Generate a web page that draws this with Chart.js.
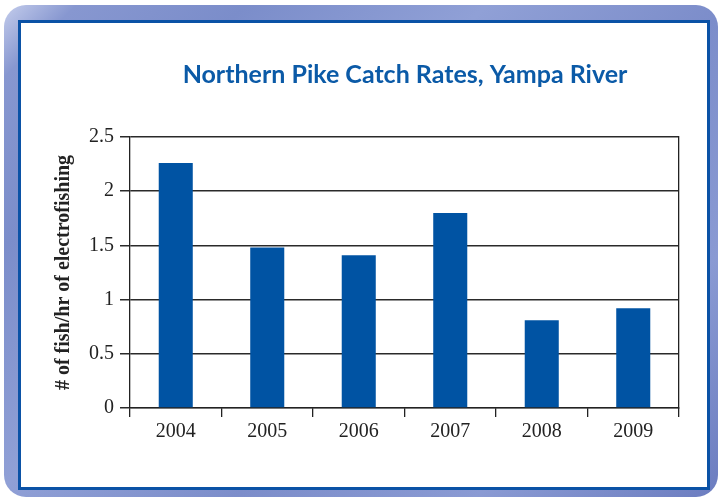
<!DOCTYPE html>
<html>
<head>
<meta charset="utf-8">
<script src="https://cdn.jsdelivr.net/npm/chart.js@4"></script>
<style>
  html, body { margin: 0; padding: 0; background: #ffffff; width: 723px; height: 500px; overflow: hidden; }
  #outer {
    position: absolute; left: 4px; top: 5px; width: 714px; height: 492px;
    border-radius: 22px;
    background: linear-gradient(135deg, #c4cdec 0%, #8797d0 6%, #7b8dca 20%, #90a0d6 40%, #7c8dca 60%, #8a9ad3 80%, #6c7dc0 100%);
  }
  #inner {
    position: absolute; left: 18px; top: 20px; width: 686px; height: 464px;
    border: 3px solid #0b52a6; background: #ffffff;
  }
  #wrap { position: absolute; left: 0; top: 0; width: 723px; height: 500px; }
</style>
</head>
<body>
<div id="outer"></div>
<div id="inner"></div>
<div id="wrap"><canvas id="c" width="723" height="500"></canvas></div>
<script>
const titleText = "Northern Pike Catch Rates, Yampa River";
const yAxisTitle = "# of fish/hr of electrofishing";
const years = ["2004", "2005", "2006", "2007", "2008", "2009"];
const catchRates = [2.26, 1.48, 1.41, 1.80, 0.81, 0.92];
const yTicks = [0, 0.5, 1, 1.5, 2, 2.5];

const titlePlugin = {
  id: 'centerTitle',
  afterDraw(chart) {
    const ctx = chart.ctx;
    ctx.save();
    ctx.font = "bold 25px Lato";
    ctx.fillStyle = "#0b5aa7";
    ctx.textAlign = "center";
    ctx.textBaseline = "middle";
    ctx.fillText(titleText, 405, 75);
    ctx.restore();
  }
};

new Chart(document.getElementById('c'), {
  type: 'bar',
  data: {
    labels: years,
    datasets: [{
      data: catchRates,
      backgroundColor: '#0053a3',
      borderWidth: 0,
      barPercentage: 0.372,
      categoryPercentage: 1.0
    }]
  },
  plugins: [titlePlugin],
  options: {
    responsive: false,
    animation: false,
    devicePixelRatio: 1,
    layout: { padding: { left: 49, right: 44, top: 137, bottom: 52 } },
    plugins: { legend: { display: false }, tooltip: { enabled: false }, title: { display: false } },
    scales: {
      x: {
        grid: { display: true, drawOnChartArea: false, drawTicks: true, tickLength: 9, color: '#222', lineWidth: 1.3 },
        border: { display: true, color: '#222', width: 1.3 },
        ticks: { color: '#222', font: { family: 'Liberation Serif', size: 20 }, padding: 3 },
        afterFit(s) { s.height = 40; }
      },
      y: {
        min: 0, max: 2.5,
        afterBuildTicks(s) { s.ticks = yTicks.map(v => ({ value: v })); },
        grid: { color: '#2a2a2a', lineWidth: 1.5, tickLength: 10 },
        border: { display: true, color: '#222', width: 1.3 },
        ticks: { color: '#222', font: { family: 'Liberation Serif', size: 20 }, padding: 6,
                 callback: (v) => String(v) },
        title: { display: true, text: yAxisTitle, color: '#222',
                 font: { family: 'Liberation Serif', size: 20, weight: 'bold' }, padding: 3 },
        afterFit(s) { s.width = 81; }
      },
      y2: {
        type: 'linear', position: 'right', min: 0, max: 2.5,
        grid: { display: false },
        border: { display: true, color: '#222', width: 1.3 },
        ticks: { display: false },
        afterFit(s) { s.width = 0; }
      }
    }
  }
});
</script>
</body>
</html>
